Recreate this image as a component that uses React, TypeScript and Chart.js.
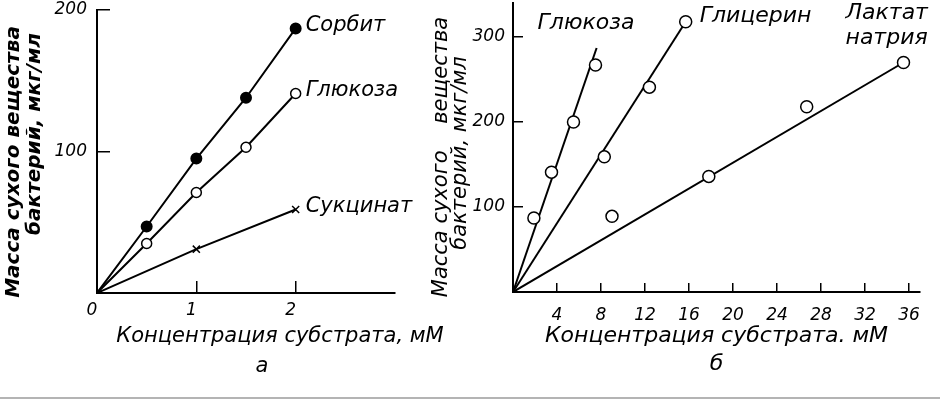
import React, { useEffect, useRef } from 'react';
import { Chart, registerables } from 'chart.js';

Chart.register(...registerables);

const FAMILY = '"DejaVu Sans", sans-serif';

// ---- Panel а ----
const aConc = [0, 0.5, 1, 1.5, 2];
const aSorbit = [0, 47, 95, 138, 187];
const aGlucose = [0, 35, 71, 103, 141];
const aSuccConc = [0, 1, 2];
const aSuccinate = [0, 31, 59];
const aXTicks = [0, 1, 2];
const aYTicks = [100, 200];
const aSeriesNames = ['Сорбит', 'Глюкоза', 'Сукцинат'];

// ---- Panel б ----
const bGlucoseConc = [1.9, 3.5, 5.5, 7.5];
const bGlucose = [87, 141, 200, 267];
const bGlucoseFitConc = [0, 7.6];
const bGlucoseFit = [0, 287];
const bGlycerolConc = [8.3, 12.4, 15.7];
const bGlycerol = [159, 241, 318];
const bGlycerolFitConc = [0, 15.7];
const bGlycerolFit = [0, 318];
const bLactateConc = [9, 17.8, 26.7, 35.5];
const bLactate = [89, 136, 218, 270];
const bLactateFitConc = [0, 35.5];
const bLactateFit = [0, 270];
const bXTicks = [4, 8, 12, 16, 20, 24, 28, 32, 36];
const bYTicks = [100, 200, 300];
const bSeriesNames = ['Глюкоза', 'Глицерин', 'Лактат', 'натрия'];

const pts = (xs: number[], ys: number[]) => xs.map((x, i) => ({ x, y: ys[i] }));

const tickFont = { family: FAMILY, size: 17, style: 'italic' as const };

function drawText(
  ctx: CanvasRenderingContext2D,
  text: string,
  x: number,
  y: number,
  font: string,
  align: CanvasTextAlign = 'left',
  rotation = 0
) {
  ctx.save();
  ctx.translate(x, y);
  ctx.rotate(rotation);
  ctx.font = font;
  ctx.fillStyle = '#000';
  ctx.textAlign = align;
  ctx.textBaseline = 'middle';
  ctx.fillText(text, 0, 0);
  ctx.restore();
}

function lastPoint(chart: any, idx: number) {
  const data = chart.getDatasetMeta(idx).data;
  const el = data[data.length - 1];
  return { x: el.x, y: el.y };
}

const labelFontA = `italic 21px ${FAMILY}`;
const labelFontB = `italic 22px ${FAMILY}`;
const titleFontBold = `italic bold 20px ${FAMILY}`;
const titleFontB = `italic 21px ${FAMILY}`;

const panelATexts = {
  id: 'panelATexts',
  afterDraw(chart: any) {
    const ctx = chart.ctx;
    aSeriesNames.forEach((name, i) => {
      const p = lastPoint(chart, i);
      drawText(ctx, name, p.x + 10, p.y - 3, labelFontA, 'left');
    });
    // y-axis title
    drawText(ctx, 'Масса сухого вещества', 14, 162, titleFontBold, 'center', -Math.PI / 2);
    drawText(ctx, 'бактерий, мкг/мл', 35, 134, titleFontBold, 'center', -Math.PI / 2);
    // x-axis title
    drawText(ctx, 'Концентрация субстрата, мМ', 280, 337, `italic 21px ${FAMILY}`, 'center');
    drawText(ctx, 'а', 262, 367, `italic 21px ${FAMILY}`, 'center');
  },
};

const panelBTexts = {
  id: 'panelBTexts',
  afterDraw(chart: any) {
    const ctx = chart.ctx;
    const g = lastPoint(chart, 3);
    drawText(ctx, bSeriesNames[0], g.x - 59, g.y - 25, labelFontB, 'left');
    const gl = lastPoint(chart, 1);
    drawText(ctx, bSeriesNames[1], gl.x + 14, gl.y - 5, labelFontB, 'left');
    const l = lastPoint(chart, 2);
    drawText(ctx, bSeriesNames[2], l.x - 58, l.y - 49, labelFontB, 'left');
    drawText(ctx, bSeriesNames[3], l.x - 58, l.y - 24, labelFontB, 'left');
    // y-axis title
    drawText(ctx, 'Масса сухого    вещества', 22, 157, titleFontB, 'center', -Math.PI / 2);
    drawText(ctx, 'бактерий, мкг/мл', 41, 153, titleFontB, 'center', -Math.PI / 2);
  },
};

const openPointA = {
  pointBackgroundColor: '#fff',
  pointBorderColor: '#000',
  pointBorderWidth: 1.5,
};

const openPointB = {
  pointRadius: 6,
  pointBackgroundColor: '#fff',
  pointBorderColor: '#000',
  pointBorderWidth: 1.5,
};

function zeroPadding(s: any) {
  s.paddingTop = 0;
  s.paddingBottom = 0;
  s.paddingLeft = 0;
  s.paddingRight = 0;
}

function axisCommon(tickLength: number, padding: number) {
  return {
    type: 'linear' as const,
    border: { display: true, color: '#000', width: 2 },
    grid: { drawOnChartArea: false, drawTicks: true, tickLength, color: '#000', lineWidth: 1.5 },
    ticks: { padding, color: '#000', font: tickFont, autoSkip: false, maxRotation: 0 },
  };
}

export default function App() {
  const leftRef = useRef<HTMLCanvasElement>(null);
  const rightRef = useRef<HTMLCanvasElement>(null);

  useEffect(() => {
    const left = new Chart(leftRef.current!, {
      type: 'scatter',
      data: {
        datasets: [
          {
            data: pts(aConc, aSorbit),
            showLine: true,
            borderColor: '#000',
            borderWidth: 2,
            pointRadius: (c: any) => (c.dataIndex === 0 ? 0 : 5),
            pointBackgroundColor: '#000',
            pointBorderColor: '#000',
          },
          {
            data: pts(aConc, aGlucose),
            showLine: true,
            borderColor: '#000',
            borderWidth: 2,
            ...openPointA,
            pointRadius: (c: any) => (c.dataIndex === 0 ? 0 : 5),
          },
          {
            data: pts(aSuccConc, aSuccinate),
            showLine: true,
            borderColor: '#000',
            borderWidth: 2,
            pointStyle: 'crossRot',
            pointRadius: (c: any) => (c.dataIndex === 0 ? 0 : 5),
            pointBorderColor: '#000',
            pointBorderWidth: 1.5,
          },
        ],
      },
      options: {
        animation: false,
        responsive: false,
        maintainAspectRatio: false,
        layout: { padding: { left: 0, top: 10, right: 75, bottom: 0 }, autoPadding: false },
        plugins: { legend: { display: false }, tooltip: { enabled: false } },
        scales: {
          x: {
            ...axisCommon(-12, 19),
            min: 0,
            max: 3,
            afterBuildTicks: (s: any) => {
              s.ticks = aXTicks.map((v) => ({ value: v }));
            },
            afterFit: (s: any) => {
              s.height = 106;
              zeroPadding(s);
            },
            ticks: { ...axisCommon(-12, 19).ticks, labelOffset: -5 },
          },
          y: {
            ...axisCommon(-13, 23),
            min: 0,
            max: 200,
            afterBuildTicks: (s: any) => {
              s.ticks = aYTicks.map((v) => ({ value: v }));
            },
            afterFit: (s: any) => {
              s.width = 97;
              zeroPadding(s);
            },
          },
        },
      } as any,
      plugins: [panelATexts],
    });

    const right = new Chart(rightRef.current!, {
      type: 'scatter',
      data: {
        datasets: [
          { data: pts(bGlucoseConc, bGlucose), showLine: false, ...openPointB },
          { data: pts(bGlycerolConc, bGlycerol), showLine: false, ...openPointB },
          { data: pts(bLactateConc, bLactate), showLine: false, ...openPointB },
          { data: pts(bGlucoseFitConc, bGlucoseFit), showLine: true, borderColor: '#000', borderWidth: 2, pointRadius: 0 },
          { data: pts(bGlycerolFitConc, bGlycerolFit), showLine: true, borderColor: '#000', borderWidth: 2, pointRadius: 0 },
          { data: pts(bLactateFitConc, bLactateFit), showLine: true, borderColor: '#000', borderWidth: 2, pointRadius: 0 },
        ],
      },
      options: {
        animation: false,
        responsive: false,
        maintainAspectRatio: false,
        layout: { padding: { left: 0, top: 3, right: 20, bottom: 0 }, autoPadding: false },
        plugins: { legend: { display: false }, tooltip: { enabled: false } },
        scales: {
          x: {
            ...axisCommon(-9, 22),
            min: 0,
            max: 37,
            afterBuildTicks: (s: any) => {
              s.ticks = bXTicks.map((v) => ({ value: v }));
            },
            afterFit: (s: any) => {
              s.height = 107;
              zeroPadding(s);
            },
            title: {
              display: true,
              text: ['Концентрация субстрата. мМ', 'б'],
              color: '#000',
              font: { family: FAMILY, size: 22, style: 'italic', lineHeight: 1.3 },
              padding: { top: 0, bottom: 20 },
            },
          },
          y: {
            ...axisCommon(-10, 18),
            min: 0,
            max: 340,
            afterBuildTicks: (s: any) => {
              s.ticks = bYTicks.map((v) => ({ value: v }));
            },
            afterFit: (s: any) => {
              s.width = 93;
              zeroPadding(s);
            },
          },
        },
      } as any,
      plugins: [panelBTexts],
    });

    return () => {
      left.destroy();
      right.destroy();
    };
  }, []);

  return (
    <div
      style={{
        position: 'absolute',
        left: 0,
        top: 0,
        width: 940,
        height: 399,
        background: '#fff',
        overflow: 'hidden',
      }}
    >
      <canvas ref={leftRef} width={470} height={399} style={{ position: 'absolute', left: 0, top: 0 }} />
      <canvas ref={rightRef} width={520} height={399} style={{ position: 'absolute', left: 420, top: 0 }} />
      <div
        style={{
          position: 'absolute',
          left: 0,
          top: 397,
          width: 940,
          height: 2,
          background: '#b4b4b4',
        }}
      />
    </div>
  );
}
